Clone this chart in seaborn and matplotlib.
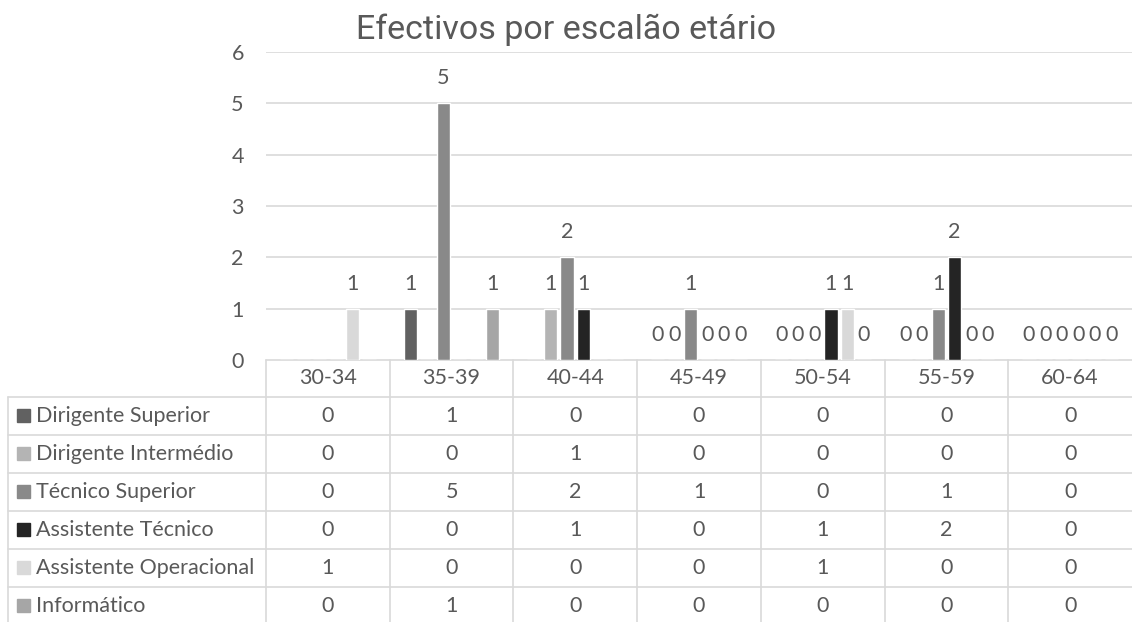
import numpy as np
import pandas as pd
import seaborn as sns
import matplotlib.pyplot as plt

# data
categories = ["30-34", "35-39", "40-44", "45-49", "50-54", "55-59", "60-64"]
series = ["Dirigente Superior", "Dirigente Intermédio", "Técnico Superior",
          "Assistente Técnico", "Assistente Operacional", "Informático"]
dirigente_superior = [0, 1, 0, 0, 0, 0, 0]
dirigente_intermedio = [0, 0, 1, 0, 0, 0, 0]
tecnico_superior = [0, 5, 2, 1, 0, 1, 0]
assistente_tecnico = [0, 0, 1, 0, 1, 2, 0]
assistente_operacional = [1, 0, 0, 0, 1, 0, 0]
informatico = [0, 1, 0, 0, 0, 0, 0]
colors = ["#616161", "#b4b4b4", "#898989", "#242424", "#d9d9d9", "#a6a6a6"]
# excel hid the zero labels in the first three groups
show_zero = [False, False, False, True, True, True, True]

values = [dirigente_superior, dirigente_intermedio, tecnico_superior,
          assistente_tecnico, assistente_operacional, informatico]
df = pd.DataFrame({"escalao": np.tile(categories, len(series)),
                   "carreira": np.repeat(series, len(categories)),
                   "n": np.concatenate(values)})

sns.set_theme(style="white")
plt.rcParams['font.family'] = ['Lato', 'DejaVu Sans']
txt = "#595959"
grid = "#d9d9d9"
fs = 15.5

W, H = 1132, 622
fig = plt.figure(figsize=(W / 100, H / 100), dpi=100)

# pixel-space axes for the data table
tax = fig.add_axes([0, 0, 1, 1])
tax.set_xlim(0, W)
tax.set_ylim(H, 0)
tax.axis('off')

left, top, bottom = 266, 52, 360
ax = fig.add_axes([left / W, 1 - bottom / H, (W - left) / W, (bottom - top) / H])
ax.patch.set_alpha(0)

sns.barplot(data=df, x="escalao", y="n", hue="carreira", order=categories,
            hue_order=series, palette=colors, saturation=1, width=0.8, gap=0.2,
            legend=False, ax=ax, zorder=3)

ax.set_xlim(-0.5, len(categories) - 0.5)
ax.set_ylim(0, 6)
ax.set_yticks(range(7))
ax.tick_params(axis='y', labelsize=fs, labelcolor=txt, length=0, pad=16)
ax.set_xticks([])
ax.set_xlabel("")
ax.set_ylabel("")
for s in ax.spines.values():
    s.set_visible(False)
for y in range(1, 7):
    ax.axhline(y, color=grid, lw=1.2, zorder=1)

for cont in ax.containers:
    for i, bar in enumerate(cont):
        v = bar.get_height()
        if v == 0 and not show_zero[i]:
            continue
        ax.annotate(f"{v:.0f}", (bar.get_x() + bar.get_width() / 2, v),
                    xytext=(0, 18), textcoords='offset points',
                    ha='center', va='center', fontsize=fs, color=txt)

# table
colw = (W - left) / len(categories)
row_top, row_h = 397, 38
tax.plot([left, W], [bottom, bottom], color=grid, lw=1.2)
for k in range(len(series)):
    y = row_top + k * row_h
    tax.plot([8, W], [y, y], color=grid, lw=1.2)
for i in range(len(categories)):
    x = left + i * colw
    tax.plot([x, x], [bottom, H], color=grid, lw=1.2)
tax.plot([8, 8], [row_top, H], color=grid, lw=1.2)

for i, c in enumerate(categories):
    tax.text(left + (i + 0.5) * colw, (bottom + row_top) / 2, c,
             ha='center', va='center', fontsize=fs, color=txt)

for k, (name, vals) in enumerate(zip(series, values)):
    yc = row_top + (k + 0.5) * row_h
    tax.add_patch(plt.Rectangle((17, yc - 7), 13, 13, color=colors[k]))
    tax.text(36, yc, name, ha='left', va='center', fontsize=fs, color=txt)
    for i, v in enumerate(vals):
        tax.text(left + (i + 0.5) * colw, yc, str(v), ha='center', va='center',
                 fontsize=fs, color=txt)

fig.text(0.5, 1 - 30 / H, "Efectivos por escalão etário", ha='center', va='center',
         fontsize=24.5, color=txt, family=['Roboto', 'DejaVu Sans'])

fig.savefig("out.png", dpi=100)
